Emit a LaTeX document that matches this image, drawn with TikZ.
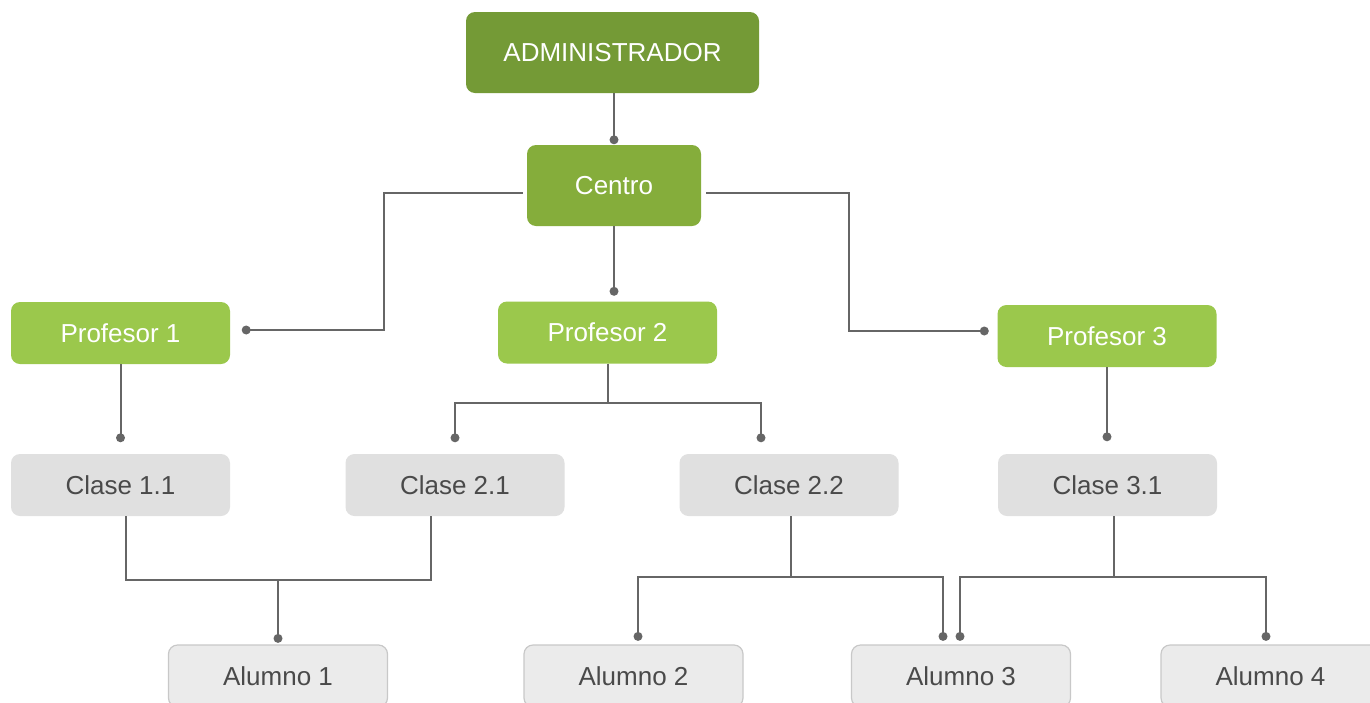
\documentclass[tikz,border=0pt]{standalone}
\usepackage{fontspec}
\setmainfont{Liberation Sans}
\usetikzlibrary{calc}
\definecolor{gA}{HTML}{749A36}
\definecolor{gB}{HTML}{85AD3B}
\definecolor{gC}{HTML}{9BC84C}
\definecolor{grayF}{HTML}{E0E0E0}
\definecolor{grayA}{HTML}{EBEBEB}
\definecolor{grayB}{HTML}{C8C8C8}
\definecolor{txtG}{HTML}{4A4A4A}
\definecolor{lineC}{HTML}{666666}
\tikzset{
  box/.style={rectangle, rounded corners=9pt, minimum width=219pt, minimum height=62pt, inner sep=0pt, font=\fontsize{26}{30}\selectfont},
  adminbox/.style={box, fill=gA, text=white, minimum width=293pt, minimum height=81pt},
  centrobox/.style={box, fill=gB, text=white, minimum width=174pt, minimum height=81pt},
  profbox/.style={box, fill=gC, text=white},
  clasebox/.style={box, fill=grayF, text=txtG},
  alumnobox/.style={box, fill=grayA, draw=grayB, line width=1.2pt, text=txtG},
  conn/.style={draw=lineC, line width=2pt},
  dotnode/.style={circle, fill=lineC, inner sep=0pt, minimum size=9pt}
}
\begin{document}
\begin{tikzpicture}[x=1pt,y=-1pt]
\useasboundingbox (0,0) rectangle (1370,702);
\clip (0,0) rectangle (1370,702);
\fill[white] (0,0) rectangle (1370,702);
% nodes
\node[adminbox] (admin) at (612.5,52.5) {ADMINISTRADOR};
\node[centrobox] (centro) at (614,185.5) {Centro};
\node[profbox] (p1) at (120.5,333) {Profesor 1};
\node[profbox] (p2) at (607.5,332.5) {Profesor 2};
\node[profbox] (p3) at (1107,336) {Profesor 3};
\node[clasebox] (c11) at (120.5,485) {Clase 1.1};
\node[clasebox] (c21) at (455,485) {Clase 2.1};
\node[clasebox] (c22) at (789,485) {Clase 2.2};
\node[clasebox] (c31) at (1107.5,485) {Clase 3.1};
\node[alumnobox] (a1) at (278,676) {Alumno 1};
\node[alumnobox] (a2) at (633.5,676) {Alumno 2};
\node[alumnobox] (a3) at (961,676) {Alumno 3};
\node[alumnobox] (a4) at (1270.5,676) {Alumno 4};
% connectors
\draw[conn] (admin.south -| centro.north) -- ($(centro.north)+(0,-5)$) node[dotnode]{};
\draw[conn] (centro.south) -- ($(centro.north |- p2.north)+(0,-10)$) node[dotnode]{};
\draw[conn] ($(centro.west)+(-4,7.5)$) -| (384,330) -- ($(p1.east)+(16,-3)$) node[dotnode]{};
\draw[conn] ($(centro.east)+(5,7.5)$) -| (849,331) -- ($(p3.west)+(-13,-5)$) node[dotnode]{};
\draw[conn] (p1.south) -- ($(p1.south |- c11.north)+(0,-16)$) node[dotnode]{};
\draw[conn] (p2.south) -- ++(0,39) coordinate (j2);
\draw[conn] ($(c21.north)+(0,-16)$) node[dotnode]{} |- (j2) -| ($(c22.north)+(-28,-16)$) node[dotnode]{};
\draw[conn] (p3.south) -- ($(p3.south |- c31.north)+(0,-17)$) node[dotnode]{};
\draw[conn] ($(c11.south)+(5.5,0)$) |- (280,580) coordinate (j1) -| ($(c21.south)+(-24,0)$);
\draw[conn] (a1.north |- j1) -- ($(a1.north)+(0,-6)$) node[dotnode]{};
\draw[conn] ($(c22.south)+(2,0)$) -- ++(0,61) coordinate (j3);
\draw[conn] ($(a2.north)+(4.5,-8)$) node[dotnode]{} |- (j3) -| ($(a3.north)+(-18,-8)$) node[dotnode]{};
\draw[conn] ($(c31.south)+(6.5,0)$) -- ++(0,61) coordinate (j4);
\draw[conn] ($(a3.north)+(-1,-8)$) node[dotnode]{} |- (j4) -| ($(a4.north)+(-4.5,-8)$) node[dotnode]{};
\end{tikzpicture}
\end{document}
